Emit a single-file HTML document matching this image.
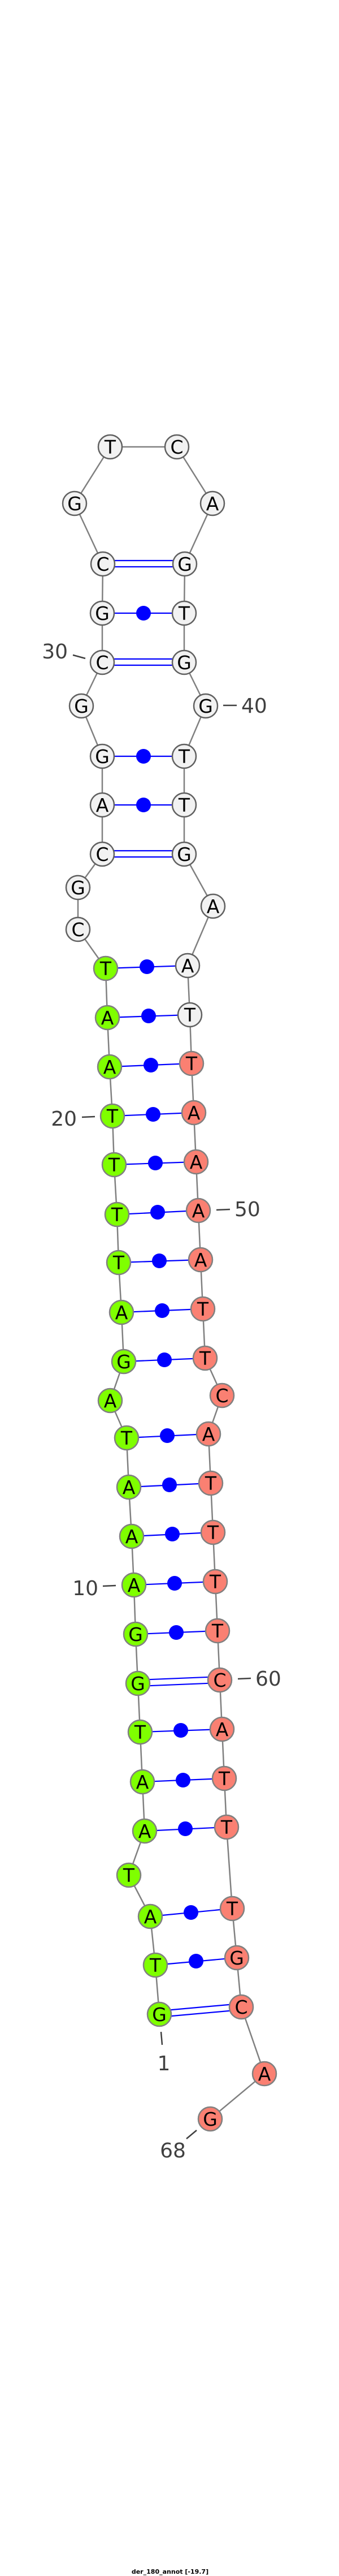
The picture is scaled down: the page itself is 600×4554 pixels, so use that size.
<!DOCTYPE html>
<html><head><meta charset="utf-8"><style>
html,body{margin:0;padding:0;background:#fff;}
svg{display:block;}
.bb{stroke:#808080;stroke-width:2.5;fill:none;}
.bp{stroke:#0000ff;stroke-width:2.2;fill:none;}
.w{fill:#f2f2f2;stroke:#606060;stroke-width:2.5;}
.g{fill:#7fff00;stroke:#808080;stroke-width:2.5;}
.r{fill:#fa8072;stroke:#808080;stroke-width:2.5;}
.n text, text.n{font-family:"DejaVu Sans","Liberation Sans",sans-serif;font-size:33px;text-anchor:middle;fill:#000;}
.lab{font-family:"DejaVu Sans","Liberation Sans",sans-serif;font-size:36px;fill:#404040;}
.tk{stroke:#404040;stroke-width:2.5;}
</style></head><body>
<svg width="600" height="4554" viewBox="0 0 600 4554" xmlns="http://www.w3.org/2000/svg">
<!-- backbone -->
<polyline class="bb" points="282,3561 275,3474 266,3388 228,3315 256,3237 252,3150 248,3062 244,2976 240,2889 237,2802 233,2716 228,2629 224,2542 195,2476 219,2407 215,2320 210,2232 207,2147 202,2059 199,1973 194,1886 190,1799 187,1712 138,1643 138,1569 181,1510 181,1423 181,1337 144,1248 181,1171 181,1084 182,997 132,890 195,790 313,790 376,890 327,997 326,1084 326,1171 364,1248 326,1337 326,1423 326,1510 377,1602 332,1707 336,1794 339,1880 343,1967 347,2054 351,2140 355,2227 359,2314 363,2401 393,2467 369,2535 373,2622 377,2709 381,2796 385,2883 389,2970 393,3057 397,3144 401,3230 411,3374 419,3461 427,3548 468,3666 372,3746"/>
<!-- double pairs -->
<g class="bp">
<line x1="282" y1="3555" x2="427" y2="3542"/><line x1="282" y1="3566" x2="427" y2="3553"/>
<line x1="244" y1="2970" x2="389" y2="2964"/><line x1="244" y1="2981" x2="389" y2="2975"/>
<line x1="181" y1="1504" x2="326" y2="1504"/><line x1="181" y1="1515" x2="326" y2="1515"/>
<line x1="181" y1="1165" x2="326" y2="1165"/><line x1="181" y1="1176" x2="326" y2="1176"/>
<line x1="182" y1="991" x2="327" y2="991"/><line x1="182" y1="1002" x2="327" y2="1002"/>
<!-- single pairs -->
<line x1="275" y1="3474" x2="419" y2="3461"/>
<line x1="266" y1="3388" x2="411" y2="3374"/>
<line x1="256" y1="3237" x2="401" y2="3230"/>
<line x1="252" y1="3150" x2="397" y2="3144"/>
<line x1="248" y1="3062" x2="393" y2="3057"/>
<line x1="240" y1="2889" x2="385" y2="2883"/>
<line x1="237" y1="2802" x2="381" y2="2796"/>
<line x1="233" y1="2716" x2="377" y2="2709"/>
<line x1="228" y1="2629" x2="373" y2="2622"/>
<line x1="224" y1="2542" x2="369" y2="2535"/>
<line x1="219" y1="2407" x2="363" y2="2401"/>
<line x1="215" y1="2320" x2="359" y2="2314"/>
<line x1="210" y1="2232" x2="355" y2="2227"/>
<line x1="207" y1="2147" x2="351" y2="2140"/>
<line x1="202" y1="2059" x2="347" y2="2054"/>
<line x1="199" y1="1973" x2="343" y2="1967"/>
<line x1="194" y1="1886" x2="339" y2="1880"/>
<line x1="190" y1="1799" x2="336" y2="1794"/>
<line x1="187" y1="1712" x2="332" y2="1707"/>
<line x1="181" y1="1423" x2="326" y2="1423"/>
<line x1="181" y1="1337" x2="326" y2="1337"/>
<line x1="181" y1="1084" x2="326" y2="1084"/>
</g>
<g fill="#0000ff">
<circle cx="347" cy="3467" r="13"/>
<circle cx="338" cy="3381" r="13"/>
<circle cx="328" cy="3233" r="13"/>
<circle cx="324" cy="3147" r="13"/>
<circle cx="320" cy="3059" r="13"/>
<circle cx="312" cy="2886" r="13"/>
<circle cx="309" cy="2799" r="13"/>
<circle cx="305" cy="2712" r="13"/>
<circle cx="300" cy="2625" r="13"/>
<circle cx="296" cy="2538" r="13"/>
<circle cx="291" cy="2404" r="13"/>
<circle cx="287" cy="2317" r="13"/>
<circle cx="282" cy="2229" r="13"/>
<circle cx="279" cy="2143" r="13"/>
<circle cx="275" cy="2056" r="13"/>
<circle cx="271" cy="1970" r="13"/>
<circle cx="267" cy="1883" r="13"/>
<circle cx="263" cy="1796" r="13"/>
<circle cx="260" cy="1709" r="13"/>
<circle cx="254" cy="1423" r="13"/>
<circle cx="254" cy="1337" r="13"/>
<circle cx="254" cy="1084" r="13"/>
</g>
<!-- nodes -->
<g class="n">
<circle class="g" cx="282" cy="3561" r="21"/><text x="282" y="3573">G</text>
<circle class="g" cx="275" cy="3474" r="21"/><text x="275" y="3486">T</text>
<circle class="g" cx="266" cy="3388" r="21"/><text x="266" y="3400">A</text>
<circle class="g" cx="228" cy="3315" r="21"/><text x="228" y="3327">T</text>
<circle class="g" cx="256" cy="3237" r="21"/><text x="256" y="3249">A</text>
<circle class="g" cx="252" cy="3150" r="21"/><text x="252" y="3162">A</text>
<circle class="g" cx="248" cy="3062" r="21"/><text x="248" y="3074">T</text>
<circle class="g" cx="244" cy="2976" r="21"/><text x="244" y="2988">G</text>
<circle class="g" cx="240" cy="2889" r="21"/><text x="240" y="2901">G</text>
<circle class="g" cx="237" cy="2802" r="21"/><text x="237" y="2814">A</text>
<circle class="g" cx="233" cy="2716" r="21"/><text x="233" y="2728">A</text>
<circle class="g" cx="228" cy="2629" r="21"/><text x="228" y="2641">A</text>
<circle class="g" cx="224" cy="2542" r="21"/><text x="224" y="2554">T</text>
<circle class="g" cx="195" cy="2476" r="21"/><text x="195" y="2488">A</text>
<circle class="g" cx="219" cy="2407" r="21"/><text x="219" y="2419">G</text>
<circle class="g" cx="215" cy="2320" r="21"/><text x="215" y="2332">A</text>
<circle class="g" cx="210" cy="2232" r="21"/><text x="210" y="2244">T</text>
<circle class="g" cx="207" cy="2147" r="21"/><text x="207" y="2159">T</text>
<circle class="g" cx="202" cy="2059" r="21"/><text x="202" y="2071">T</text>
<circle class="g" cx="199" cy="1973" r="21"/><text x="199" y="1985">T</text>
<circle class="g" cx="194" cy="1886" r="21"/><text x="194" y="1898">A</text>
<circle class="g" cx="190" cy="1799" r="21"/><text x="190" y="1811">A</text>
<circle class="g" cx="187" cy="1712" r="21"/><text x="187" y="1724">T</text>
<circle class="w" cx="138" cy="1643" r="21"/><text x="138" y="1655">C</text>
<circle class="w" cx="138" cy="1569" r="21"/><text x="138" y="1581">G</text>
<circle class="w" cx="181" cy="1510" r="21"/><text x="181" y="1522">C</text>
<circle class="w" cx="181" cy="1423" r="21"/><text x="181" y="1435">A</text>
<circle class="w" cx="181" cy="1337" r="21"/><text x="181" y="1349">G</text>
<circle class="w" cx="144" cy="1248" r="21"/><text x="144" y="1260">G</text>
<circle class="w" cx="181" cy="1171" r="21"/><text x="181" y="1183">C</text>
<circle class="w" cx="181" cy="1084" r="21"/><text x="181" y="1096">G</text>
<circle class="w" cx="182" cy="997" r="21"/><text x="182" y="1009">C</text>
<circle class="w" cx="132" cy="890" r="21"/><text x="132" y="902">G</text>
<circle class="w" cx="195" cy="790" r="21"/><text x="195" y="802">T</text>
<circle class="w" cx="313" cy="790" r="21"/><text x="313" y="802">C</text>
<circle class="w" cx="376" cy="890" r="21"/><text x="376" y="902">A</text>
<circle class="w" cx="327" cy="997" r="21"/><text x="327" y="1009">G</text>
<circle class="w" cx="326" cy="1084" r="21"/><text x="326" y="1096">T</text>
<circle class="w" cx="326" cy="1171" r="21"/><text x="326" y="1183">G</text>
<circle class="w" cx="364" cy="1248" r="21"/><text x="364" y="1260">G</text>
<circle class="w" cx="326" cy="1337" r="21"/><text x="326" y="1349">T</text>
<circle class="w" cx="326" cy="1423" r="21"/><text x="326" y="1435">T</text>
<circle class="w" cx="326" cy="1510" r="21"/><text x="326" y="1522">G</text>
<circle class="w" cx="377" cy="1602" r="21"/><text x="377" y="1614">A</text>
<circle class="w" cx="332" cy="1707" r="21"/><text x="332" y="1719">A</text>
<circle class="w" cx="336" cy="1794" r="21"/><text x="336" y="1806">T</text>
<circle class="r" cx="339" cy="1880" r="21"/><text x="339" y="1892">T</text>
<circle class="r" cx="343" cy="1967" r="21"/><text x="343" y="1979">A</text>
<circle class="r" cx="347" cy="2054" r="21"/><text x="347" y="2066">A</text>
<circle class="r" cx="351" cy="2140" r="21"/><text x="351" y="2152">A</text>
<circle class="r" cx="355" cy="2227" r="21"/><text x="355" y="2239">A</text>
<circle class="r" cx="359" cy="2314" r="21"/><text x="359" y="2326">T</text>
<circle class="r" cx="363" cy="2401" r="21"/><text x="363" y="2413">T</text>
<circle class="r" cx="393" cy="2467" r="21"/><text x="393" y="2479">C</text>
<circle class="r" cx="369" cy="2535" r="21"/><text x="369" y="2547">A</text>
<circle class="r" cx="373" cy="2622" r="21"/><text x="373" y="2634">T</text>
<circle class="r" cx="377" cy="2709" r="21"/><text x="377" y="2721">T</text>
<circle class="r" cx="381" cy="2796" r="21"/><text x="381" y="2808">T</text>
<circle class="r" cx="385" cy="2883" r="21"/><text x="385" y="2895">T</text>
<circle class="r" cx="389" cy="2970" r="21"/><text x="389" y="2982">C</text>
<circle class="r" cx="393" cy="3057" r="21"/><text x="393" y="3069">A</text>
<circle class="r" cx="397" cy="3144" r="21"/><text x="397" y="3156">T</text>
<circle class="r" cx="401" cy="3230" r="21"/><text x="401" y="3242">T</text>
<circle class="r" cx="411" cy="3374" r="21"/><text x="411" y="3386">T</text>
<circle class="r" cx="419" cy="3461" r="21"/><text x="419" y="3473">G</text>
<circle class="r" cx="427" cy="3548" r="21"/><text x="427" y="3560">C</text>
<circle class="r" cx="468" cy="3666" r="21"/><text x="468" y="3678">A</text>
<circle class="r" cx="372" cy="3746" r="21"/><text x="372" y="3758">G</text>
</g>
<!-- labels -->
<line class="tk" x1="129" y1="1158" x2="151" y2="1164"/>
<text class="lab" x="120" y="1164" text-anchor="end">30</text>
<line class="tk" x1="395" y1="1247" x2="419" y2="1247"/>
<text class="lab" x="427" y="1260">40</text>
<line class="tk" x1="145" y1="1975" x2="168" y2="1974"/>
<text class="lab" x="136" y="1990" text-anchor="end">20</text>
<line class="tk" x1="383" y1="2139" x2="407" y2="2138"/>
<text class="lab" x="415" y="2150">50</text>
<line class="tk" x1="182" y1="2804" x2="205" y2="2803"/>
<text class="lab" x="174" y="2820" text-anchor="end">10</text>
<line class="tk" x1="421" y1="2968" x2="444" y2="2967"/>
<text class="lab" x="452" y="2980">60</text>
<line class="tk" x1="285" y1="3592" x2="287" y2="3615"/>
<text class="lab" x="290" y="3660" text-anchor="middle">1</text>
<line class="tk" x1="330" y1="3781" x2="348" y2="3766"/>
<text class="lab" x="306" y="3814" text-anchor="middle">68</text>
<text x="301" y="4550" text-anchor="middle" font-family="'DejaVu Sans','Liberation Sans',sans-serif" font-size="11" font-weight="bold" fill="#000">der_180_annot [-19.7]</text>
</svg>
</body></html>
